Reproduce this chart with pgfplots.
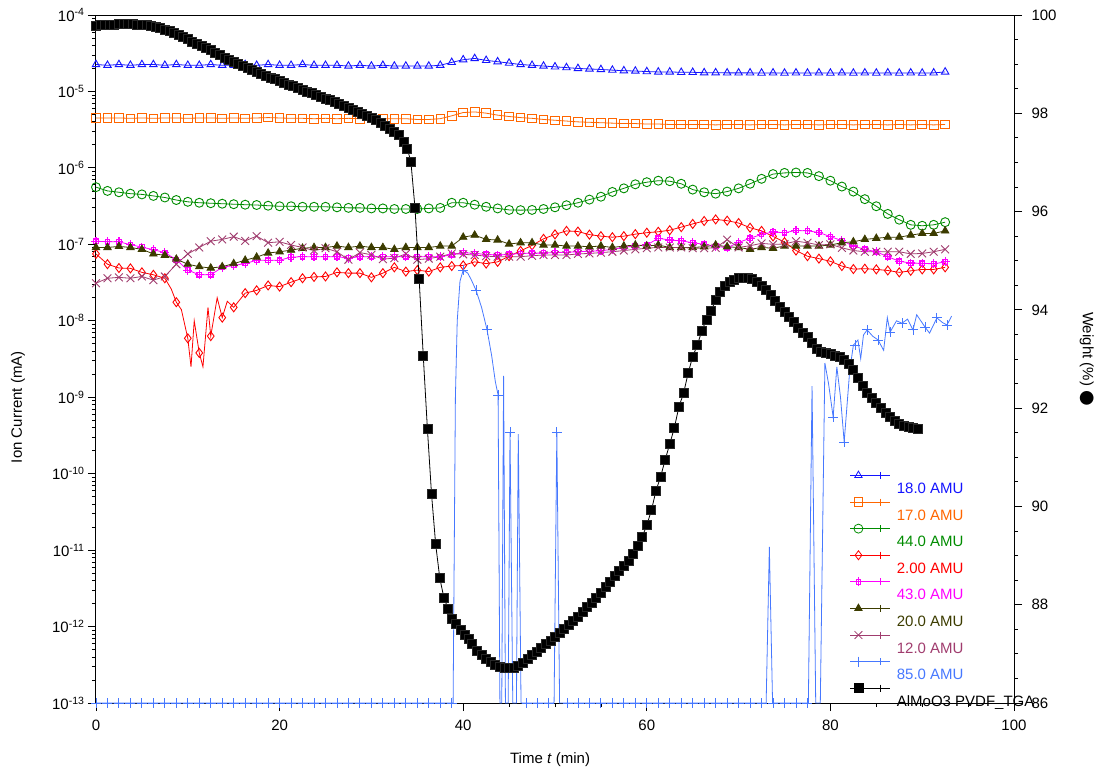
\documentclass[border=0pt]{standalone}
\usepackage{pgfplots}
\pgfplotsset{compat=1.18}
\usepackage{pgfplotstable}
\usepackage{fontspec}
\setmainfont{Liberation Sans}
\newfontfamily\dejavu{DejaVu Sans}
\usetikzlibrary{plotmarks}
\newcommand\fs{\fontsize{15bp}{18bp}\selectfont}
\definecolor{c18}{RGB}{20,20,255}
\definecolor{c17}{RGB}{255,102,0}
\definecolor{c44}{RGB}{0,140,0}
\definecolor{c2}{RGB}{255,0,0}
\definecolor{c43}{RGB}{255,0,255}
\definecolor{c20}{RGB}{60,60,0}
\definecolor{c12}{RGB}{160,60,110}
\definecolor{c85}{RGB}{70,120,255}
\pgfdeclareplotmark{sqplus}{%
 \pgfpathmoveto{\pgfqpoint{-\pgfplotmarksize}{0pt}}\pgfpathlineto{\pgfqpoint{\pgfplotmarksize}{0pt}}%
 \pgfpathmoveto{\pgfqpoint{0pt}{-\pgfplotmarksize}}\pgfpathlineto{\pgfqpoint{0pt}{\pgfplotmarksize}}%
 \pgfpathrectangle{\pgfqpoint{-.5\pgfplotmarksize}{-.5\pgfplotmarksize}}{\pgfqpoint{\pgfplotmarksize}{\pgfplotmarksize}}%
 \pgfusepathqstroke}
\pgfplotstableread{
t a18 a17 a44 a2 a43 a20 a12
0     2.25e-5 4.5e-6  5.6e-7  7.5e-8  1.1e-7   9.1e-8  3.1e-8
1.25  2.2e-5  4.5e-6  5.0e-7  5.5e-8  1.08e-7  9.1e-8  3.6e-8
2.5   2.25e-5 4.5e-6  4.8e-7  4.9e-8  1.08e-7  9.4e-8  3.7e-8
3.75  2.2e-5  4.45e-6 4.6e-7  4.85e-8 9.9e-8   9.1e-8  3.6e-8
5     2.25e-5 4.5e-6  4.5e-7  4.3e-8  9.2e-8   8.6e-8  3.8e-8
6.25  2.25e-5 4.45e-6 4.3e-7  4.0e-8  8.5e-8   7.5e-8  3.4e-8
7.5   2.2e-5  4.5e-6  4.1e-7  3.6e-8  7.8e-8   7.2e-8  3.8e-8
8.75  2.25e-5 4.5e-6  3.8e-7  1.75e-8 6.3e-8   6.4e-8  5.5e-8
10    2.2e-5  4.45e-6 3.6e-7  5.9e-9  4.6e-8   5.5e-8  7.5e-8
11.25 2.2e-5  4.5e-6  3.5e-7  3.8e-9  4.0e-8   5.1e-8  9.1e-8
12.5  2.25e-5 4.5e-6  3.45e-7 6.3e-9  4.0e-8   4.9e-8  1.1e-7
13.75 2.2e-5  4.45e-6 3.4e-7  1.1e-8  5.0e-8   5.1e-8  1.16e-7
15    2.2e-5  4.5e-6  3.35e-7 1.5e-8  5.3e-8   5.6e-8  1.26e-7
16.25 2.25e-5 4.45e-6 3.3e-7  2.3e-8  5.6e-8   6.2e-8  1.11e-7
17.5  2.2e-5  4.5e-6  3.27e-7 2.5e-8  6.2e-8   6.8e-8  1.28e-7
18.75 2.25e-5 4.55e-6 3.2e-7  2.9e-8  6.2e-8   7.7e-8  1.05e-7
20    2.2e-5  4.5e-6  3.15e-7 2.8e-8  6.2e-8   8.0e-8  1.08e-7
21.25 2.2e-5  4.45e-6 3.15e-7 3.2e-8  6.8e-8   8.4e-8  9.8e-8
22.5  2.25e-5 4.45e-6 3.1e-7  3.6e-8  6.9e-8   8.9e-8  9.1e-8
23.75 2.2e-5  4.4e-6  3.1e-7  3.75e-8 6.9e-8   9.1e-8  8.3e-8
25    2.2e-5  4.45e-6 3.1e-7  3.8e-8  6.9e-8   9.1e-8  8.9e-8
26.25 2.2e-5  4.4e-6  3.05e-7 4.3e-8  6.9e-8   9.5e-8  8.0e-8
27.5  2.15e-5 4.45e-6 3.0e-7  4.2e-8  6.6e-8   9.1e-8  6.3e-8
28.75 2.2e-5  4.4e-6  3.0e-7  4.2e-8  6.9e-8   9.5e-8  7.8e-8
30    2.15e-5 4.45e-6 2.95e-7 3.7e-8  6.9e-8   9.1e-8  7.3e-8
31.25 2.2e-5  4.4e-6  2.95e-7 4.2e-8  6.9e-8   9.1e-8  6.4e-8
32.5  2.15e-5 4.4e-6  2.9e-7  5.0e-8  6.9e-8   8.6e-8  6.6e-8
33.75 2.15e-5 4.4e-6  2.9e-7  4.4e-8  6.9e-8   9.1e-8  7.5e-8
35    2.15e-5 4.3e-6  2.9e-7  4.6e-8  6.9e-8   9.1e-8  6.3e-8
36.25 2.15e-5 4.3e-6  2.95e-7 4.4e-8  6.9e-8   9.1e-8  6.5e-8
37.5  2.2e-5  4.4e-6  3.0e-7  5.0e-8  6.9e-8   9.5e-8  6.9e-8
38.75 2.4e-5  4.8e-6  3.5e-7  5.2e-8  7.3e-8   9.5e-8  7.6e-8
40    2.6e-5  5.3e-6  3.5e-7  5.3e-8  7.8e-8   1.24e-7 7.4e-8
41.25 2.7e-5  5.4e-6  3.3e-7  5.9e-8  7.6e-8   1.32e-7 7.25e-8
42.5  2.55e-5 5.2e-6  3.1e-7  5.6e-8  7.4e-8   1.16e-7 7.0e-8
43.75 2.45e-5 4.9e-6  2.95e-7 5.9e-8  7.25e-8  1.14e-7 6.9e-8
45    2.35e-5 4.7e-6  2.82e-7 7.0e-8  7.4e-8   1.01e-7 6.9e-8
46.25 2.25e-5 4.55e-6 2.8e-7  8.2e-8  7.6e-8   1.05e-7 6.9e-8
47.5  2.2e-5  4.45e-6 2.82e-7 9.7e-8  7.65e-8  1.05e-7 7.1e-8
48.75 2.15e-5 4.3e-6  2.9e-7  1.18e-7 7.7e-8   9.8e-8  7.25e-8
50    2.1e-5  4.2e-6  3.05e-7 1.35e-7 7.8e-8   9.8e-8  7.25e-8
51.25 2.05e-5 4.1e-6  3.25e-7 1.5e-7  7.9e-8   9.5e-8  7.25e-8
52.5  2.0e-5  4.0e-6  3.5e-7  1.47e-7 8.0e-8   9.5e-8  7.5e-8
53.75 1.97e-5 3.95e-6 3.85e-7 1.34e-7 8.1e-8   9.3e-8  7.6e-8
55    1.94e-5 3.9e-6  4.2e-7  1.28e-7 8.25e-8  9.5e-8  7.8e-8
56.25 1.9e-5  3.85e-6 4.85e-7 1.24e-7 8.6e-8   9.1e-8  8.0e-8
57.5  1.87e-5 3.8e-6  5.4e-7  1.28e-7 9.1e-8   9.5e-8  8.3e-8
58.75 1.85e-5 3.8e-6  6.1e-7  1.36e-7 9.6e-8   9.8e-8  8.6e-8
60    1.82e-5 3.75e-6 6.5e-7  1.42e-7 9.8e-8   9.5e-8  8.9e-8
61.25 1.8e-5  3.75e-6 6.8e-7  1.46e-7 1.2e-7   9.8e-8  9.1e-8
62.5  1.8e-5  3.7e-6  6.7e-7  1.53e-7 1.14e-7  9.1e-8  9.1e-8
63.75 1.78e-5 3.7e-6  6.2e-7  1.68e-7 1.11e-7  9.1e-8  9.1e-8
65    1.78e-5 3.7e-6  5.2e-7  1.85e-7 1.05e-7  9.1e-8  8.9e-8
66.25 1.76e-5 3.7e-6  4.8e-7  2.02e-7 1.0e-7   9.3e-8  8.9e-8
67.5  1.76e-5 3.65e-6 4.6e-7  2.12e-7 9.5e-8   9.8e-8  9.0e-8
68.75 1.75e-5 3.7e-6  4.9e-7  2.04e-7 9.0e-8   9.3e-8  1.15e-7
70    1.75e-5 3.7e-6  5.4e-7  1.9e-7  1.06e-7  9.1e-8  9.1e-8
71.25 1.75e-5 3.65e-6 6.2e-7  1.65e-7 1.2e-7   8.6e-8  9.6e-8
72.5  1.74e-5 3.7e-6  7.2e-7  1.5e-7  1.35e-7  9.1e-8  1.03e-7
73.75 1.75e-5 3.7e-6  8.3e-7  1.27e-7 1.45e-7  8.9e-8  1.0e-7
75    1.74e-5 3.65e-6 8.6e-7  1.07e-7 1.42e-7  9.5e-8  1.01e-7
76.25 1.75e-5 3.7e-6  8.7e-7  8.3e-8  1.52e-7  9.5e-8  1.1e-7
77.5  1.74e-5 3.7e-6  8.6e-7  7.0e-8  1.5e-7   9.5e-8  1.05e-7
78.75 1.75e-5 3.65e-6 7.8e-7  6.5e-8  1.43e-7  9.5e-8  9.8e-8
80    1.74e-5 3.7e-6  6.8e-7  6.0e-8  1.26e-7  9.8e-8  1.0e-7
81.25 1.75e-5 3.7e-6  5.7e-7  5.2e-8  1.12e-7  1.05e-7 9.0e-8
82.5  1.74e-5 3.65e-6 4.9e-7  4.75e-8 9.5e-8   1.08e-7 8.3e-8
83.75 1.75e-5 3.7e-6  3.9e-7  4.8e-8  8.6e-8   1.16e-7 8.0e-8
85    1.74e-5 3.7e-6  3.15e-7 4.7e-8  8.0e-8   1.2e-7  8.0e-8
86.25 1.75e-5 3.65e-6 2.5e-7  4.55e-8 6.9e-8   1.24e-7 8.0e-8
87.5  1.74e-5 3.7e-6  2.1e-7  4.3e-8  6.0e-8   1.24e-7 8.0e-8
88.75 1.75e-5 3.65e-6 1.8e-7  4.5e-8  5.7e-8   1.32e-7 7.5e-8
90    1.74e-5 3.7e-6  1.75e-7 4.7e-8  5.65e-8  1.39e-7 7.6e-8
91.25 1.75e-5 3.65e-6 1.8e-7  4.7e-8  5.55e-8  1.39e-7 8.0e-8
92.5  1.8e-5  3.7e-6  1.95e-7 5.0e-8  5.9e-8   1.5e-7  8.6e-8
}\ms
\pgfplotstableread{
t w
0 99.78
0.5 99.79
1 99.8
1.5 99.8
2 99.8
2.5 99.81
3 99.81
3.5 99.81
4 99.81
4.5 99.8
5 99.8
5.5 99.79
6 99.77
6.5 99.75
7 99.73
7.5 99.7
8 99.67
8.5 99.63
9 99.59
9.5 99.55
10 99.51
10.5 99.46
11 99.42
11.5 99.37
12 99.33
12.5 99.28
13 99.23
13.5 99.18
14 99.13
14.5 99.08
15 99.04
15.5 99.0
16 98.96
16.5 98.92
17 98.88
17.5 98.84
18 98.8
18.5 98.76
19 98.72
19.5 98.69
20 98.65
20.5 98.62
21 98.58
21.5 98.55
22 98.51
22.5 98.48
23 98.44
23.5 98.41
24 98.37
24.5 98.34
25 98.3
25.5 98.27
26 98.23
26.5 98.19
27 98.15
27.5 98.11
28 98.07
28.5 98.03
29 97.99
29.5 97.95
30 97.9
30.5 97.86
31 97.81
31.5 97.75
32 97.69
32.5 97.62
33 97.55
33.5 97.42
33.9 97.28
34.3 97.02
34.75 96.07
35.2 94.63
35.65 93.06
36.1 91.58
36.55 90.25
37.0 89.23
37.45 88.54
37.9 88.14
38.35 87.92
38.8 87.72
39.25 87.6
39.7 87.48
40.15 87.38
40.6 87.3
41 87.2
41.5 87.07
42 86.98
42.5 86.9
43 86.83
43.5 86.78
44 86.74
44.5 86.71
45 86.71
45.5 86.72
46 86.76
46.5 86.82
47 86.9
47.5 86.97
48 87.04
48.5 87.12
49 87.2
49.5 87.27
50 87.35
50.5 87.43
51 87.5
51.5 87.58
52 87.67
52.5 87.76
53 87.86
53.5 87.96
54 88.04
54.5 88.14
55 88.24
55.5 88.36
56 88.47
56.5 88.58
57 88.68
57.5 88.79
58 88.9
58.5 89.03
59 89.2
59.5 89.38
60 89.62
60.5 89.92
61 90.32
61.5 90.6
62 90.95
62.5 91.27
63 91.6
63.5 92.03
64 92.3
64.5 92.71
65 93.05
65.5 93.28
66 93.58
66.5 93.8
67 93.98
67.5 94.2
68 94.36
68.5 94.48
69 94.56
69.5 94.61
70 94.65
70.5 94.66
71 94.66
71.5 94.63
72 94.57
72.5 94.48
73 94.4
73.5 94.3
74 94.18
74.5 94.06
75 93.95
75.5 93.86
76 93.75
76.5 93.64
77 93.54
77.5 93.44
78 93.32
78.5 93.2
79 93.14
79.5 93.12
80 93.1
80.5 93.07
81 93.04
81.5 92.99
82 92.9
82.5 92.78
83 92.62
83.5 92.46
84 92.32
84.5 92.2
85 92.1
85.5 92.0
86 91.9
86.5 91.82
87 91.74
87.5 91.68
88 91.64
88.5 91.61
89 91.59
89.5 91.57
}\tga
\begin{document}
\begin{tikzpicture}
\begin{axis}[
  scale only axis, width=918bp, height=688bp,
  xmin=0, xmax=100, ymode=log, ymin=1e-13, ymax=1e-4,
  clip=false,
  xtick={0,20,40,60,80,100}, xticklabels={0,20,40,60,80,100},
  minor x tick num=3,
  ytick={1e-13,1e-12,1e-11,1e-10,1e-9,1e-8,1e-7,1e-6,1e-5,1e-4},
  yticklabels={10\textsuperscript{-13},10\textsuperscript{-12},10\textsuperscript{-11},10\textsuperscript{-10},10\textsuperscript{-9},10\textsuperscript{-8},10\textsuperscript{-7},10\textsuperscript{-6},10\textsuperscript{-5},10\textsuperscript{-4}},
  xtick pos=bottom, ytick pos=left, tick align=outside,
  major tick length=8bp, minor tick length=4bp,
  every tick/.style={black, line width=0.8bp},
  axis line style={line width=1bp},
  tick label style={font=\fs},
  xticklabel style={yshift=-5bp},
  label style={font=\fs},
  xlabel={Time \textit{t} (min)},
  ylabel={Ion Current (mA)},
  xlabel style={at={(axis description cs:0.4946,-0.083)}, anchor=center},
  ylabel style={at={(axis description cs:-0.085,0.43)}, anchor=center},
  legend style={draw=none, fill=none, inner sep=0pt, outer sep=0pt, font=\fs,
    row sep=12.6bp, column sep=6bp,
    nodes={inner sep=0pt, text height=11bp, text depth=3bp},
    at={(0.8214,0.3206)}, anchor=north west},
  legend cell align=left,
  legend image code/.code={%
    \begin{pgfinterruptboundingbox}
    \draw[#1,mark=none] (0bp,14bp) -- (40bp,14bp);
    \draw[#1,mark=+,mark size=3.5bp,mark options={solid,fill=none}] plot coordinates {(30bp,14bp)};
    \draw[#1] plot coordinates {(8bp,14bp)};
    \end{pgfinterruptboundingbox}
    \path (0bp,0bp) (40bp,4bp);
  },
]
\addplot[forget plot, c18, line width=0.8bp, mark=triangle, mark size=4.3bp, mark options={line width=0.9bp}] table[x=t,y=a18] {\ms};
\addplot[forget plot, c17, line width=0.8bp, mark=square, mark size=4.3bp, mark options={line width=0.9bp}] table[x=t,y=a17] {\ms};
\addplot[forget plot, c44, line width=0.8bp, mark=o, mark size=4.5bp, mark options={line width=0.9bp}] table[x=t,y=a44] {\ms};
\addplot[forget plot, c2, line width=0.8bp] coordinates {
(0,7.5e-8)(1.25,5.5e-8)(2.5,4.9e-8)(3.75,4.85e-8)(5,4.3e-8)(6.25,4.0e-8)(7.5,3.6e-8)(8.2,2.6e-8)(8.75,1.75e-8)(9.3,1.4e-8)(10,5.9e-9)(10.35,2.5e-9)(10.7,1.0e-8)(11.25,3.8e-9)(11.65,2.5e-9)(12.2,1.5e-8)(12.5,6.3e-9)(13.2,2.0e-8)(13.75,1.1e-8)(14.3,1.8e-8)(15,1.5e-8)(16.25,2.3e-8)(17.5,2.5e-8)(18.75,2.9e-8)(20,2.8e-8)(21.25,3.2e-8)(22.5,3.6e-8)(23.75,3.75e-8)(25,3.8e-8)(26.25,4.3e-8)(27.5,4.2e-8)(28.75,4.2e-8)(30,3.7e-8)(31.25,4.2e-8)(32.5,5.0e-8)(33.75,4.4e-8)(35,4.6e-8)(36.25,4.4e-8)(37.5,5.0e-8)(38.75,5.2e-8)(40,5.3e-8)(41.25,5.9e-8)(42.5,5.6e-8)(43.75,5.9e-8)(45,7.0e-8)(46.25,8.2e-8)(47.5,9.7e-8)(48.75,1.18e-7)(50,1.35e-7)(51.25,1.5e-7)(52.5,1.47e-7)(53.75,1.34e-7)(55,1.28e-7)(56.25,1.24e-7)(57.5,1.28e-7)(58.75,1.36e-7)(60,1.42e-7)(61.25,1.46e-7)(62.5,1.53e-7)(63.75,1.68e-7)(65,1.85e-7)(66.25,2.02e-7)(67.5,2.12e-7)(68.75,2.04e-7)(70,1.9e-7)(71.25,1.65e-7)(72.5,1.5e-7)(73.75,1.27e-7)(75,1.07e-7)(76.25,8.3e-8)(77.5,7.0e-8)(78.75,6.5e-8)(80,6.0e-8)(81.25,5.2e-8)(82.5,4.75e-8)(83.75,4.8e-8)(85,4.7e-8)(86.25,4.55e-8)(87.5,4.3e-8)(88.75,4.5e-8)(90,4.7e-8)(91.25,4.7e-8)(92.5,5.0e-8)};
\addplot[forget plot, c2, only marks, mark=diamond, mark size=4.5bp, mark options={line width=0.9bp}] table[x=t,y=a2] {\ms};
\addplot[forget plot, c43, line width=0.8bp, mark=sqplus, mark size=4.5bp, mark options={line width=1.2bp}] table[x=t,y=a43] {\ms};
\addplot[forget plot, c20, line width=0.8bp, mark=triangle*, mark size=4.3bp, mark options={fill=c20}] table[x=t,y=a20] {\ms};
\addplot[forget plot, c12, line width=0.8bp, mark=x, mark size=5.5bp, mark options={line width=0.9bp}] table[x=t,y=a12] {\ms};
\addplot[forget plot, c85, line width=0.8bp] coordinates {
(0,1e-13)(38.9,1e-13)(39.15,1e-9)(39.35,1e-8)(39.65,3.3e-8)(40,4.6e-8)(40.5,4.2e-8)(40.9,3.4e-8)(41.4,2.5e-8)(42.0,1.5e-8)(42.6,7.6e-9)(43.1,3.5e-9)(43.5,1.6e-9)(43.8,1.07e-9)(44.0,1e-13)(44.2,1e-13)(44.4,1.9e-9)(44.6,1e-13)(44.9,1e-13)(45.1,3.5e-10)(45.4,1e-13)(45.8,1e-13)(46.0,3.3e-10)(46.3,1e-13)(49.9,1e-13)(50.2,3.5e-10)(50.5,1e-13)(73.0,1e-13)(73.35,1.1e-11)(73.7,1e-13)(77.6,1e-13)(78.0,1.4e-9)(78.4,1e-13)(78.9,1e-13)(79.4,2.8e-9)(79.8,1.5e-9)(80.3,5.5e-10)(80.7,2.5e-9)(81.1,1e-9)(81.5,2.6e-10)(82.1,2.2e-9)(82.5,4.8e-9)(83.0,5.6e-9)(83.3,3.2e-9)(83.6,6.5e-9)(84.0,7.6e-9)(84.6,6.3e-9)(85.2,5.6e-9)(85.8,4.1e-9)(86.2,1.1e-8)(86.5,7.1e-9)(87.2,1e-8)(87.8,9.3e-9)(88.4,1.05e-8)(89.0,7.6e-9)(89.4,1.2e-8)(90.3,8.3e-9)(90.8,6.9e-9)(91.6,1.09e-8)(92.2,9.5e-9)(92.7,8.8e-9)(93.2,1.15e-8)};
\addplot[forget plot, c85, only marks, mark=+, mark size=5bp, mark options={line width=0.9bp}] coordinates {
(0,1e-13)(1.25,1e-13)(2.5,1e-13)(3.75,1e-13)(5,1e-13)(6.25,1e-13)(7.5,1e-13)(8.75,1e-13)(10,1e-13)(11.25,1e-13)(12.5,1e-13)(13.75,1e-13)(15,1e-13)(16.25,1e-13)(17.5,1e-13)(18.75,1e-13)(20,1e-13)(21.25,1e-13)(22.5,1e-13)(23.75,1e-13)(25,1e-13)(26.25,1e-13)(27.5,1e-13)(28.75,1e-13)(30,1e-13)(31.25,1e-13)(32.5,1e-13)(33.75,1e-13)(35,1e-13)(36.25,1e-13)(37.5,1e-13)(38.75,1e-13)
(40,4.6e-8)(41.4,2.5e-8)(42.6,7.6e-9)(43.8,1.07e-9)(45.1,3.5e-10)(46.9,1e-13)(48.1,1e-13)(49.3,1e-13)(50.2,3.5e-10)
(51.4,1e-13)(52.6,1e-13)(53.8,1e-13)(55,1e-13)(56.25,1e-13)(57.5,1e-13)(58.75,1e-13)(60,1e-13)(61.25,1e-13)(62.5,1e-13)(63.75,1e-13)(65,1e-13)(66.25,1e-13)(67.5,1e-13)(68.75,1e-13)(70,1e-13)(71.25,1e-13)(72.5,1e-13)(73.75,1e-13)(75,1e-13)(76.25,1e-13)(77.5,1e-13)
(80.3,5.5e-10)(81.5,2.6e-10)(82.7,4.8e-9)(84.0,7.6e-9)(85.2,5.6e-9)(86.5,7.1e-9)(87.8,9.3e-9)(89.0,7.6e-9)(90.3,8.3e-9)(91.6,1.09e-8)(92.7,8.8e-9)};
\addlegendimage{c18, line width=0.8bp, mark=triangle, mark size=4.3bp}
\addlegendentry{\textcolor{c18}{18.0 AMU}}
\addlegendimage{c17, line width=0.8bp, mark=square, mark size=4.3bp}
\addlegendentry{\textcolor{c17}{17.0 AMU}}
\addlegendimage{c44, line width=0.8bp, mark=o, mark size=4.5bp}
\addlegendentry{\textcolor{c44}{44.0 AMU}}
\addlegendimage{c2, line width=0.8bp, mark=diamond, mark size=4.5bp}
\addlegendentry{\textcolor{c2}{2.00 AMU}}
\addlegendimage{c43, line width=0.8bp, mark=sqplus, mark size=4.5bp}
\addlegendentry{\textcolor{c43}{43.0 AMU}}
\addlegendimage{c20, line width=0.8bp, mark=triangle*, mark size=4.3bp, mark options={fill=c20}}
\addlegendentry{\textcolor{c20}{20.0 AMU}}
\addlegendimage{c12, line width=0.8bp, mark=x, mark size=5.5bp}
\addlegendentry{\textcolor{c12}{12.0 AMU}}
\addlegendimage{c85, line width=0.8bp, mark=+, mark size=5bp}
\addlegendentry{\textcolor{c85}{85.0 AMU}}
\addlegendimage{black, line width=0.8bp, mark=square*, mark size=4.5bp, mark options={fill=black}}
\addlegendentry{AlMoO3 PVDF\_TGA}
\end{axis}
\begin{axis}[
  scale only axis, width=918bp, height=688bp,
  xmin=0, xmax=100, ymin=86, ymax=100,
  axis x line=none, axis y line*=right,
  ytick={86,88,90,92,94,96,98,100},
  yticklabels={86,88,90,92,94,96,98,100},
  minor y tick num=3, tick align=outside,
  major tick length=8bp, minor tick length=4bp,
  every tick/.style={black, line width=0.8bp},
  axis line style={line width=1bp},
  tick label style={font=\fs},
  yticklabel style={xshift=6bp},
  label style={font=\fs},
  ylabel={Weight (\%) {\dejavu\fontsize{18bp}{18bp}\selectfont ●}},
  ylabel style={rotate=180, at={(axis description cs:1.0795,0.5)}, anchor=center},
]
\addplot[black, line width=0.8bp, mark=square*, mark size=4.5bp, mark options={fill=black, draw=black!85}] table[x=t,y=w] {\tga};
\end{axis}
\pgfresetboundingbox
\path (-96bp,-70bp) rectangle (1003bp,703bp);
\end{tikzpicture}
\end{document}
